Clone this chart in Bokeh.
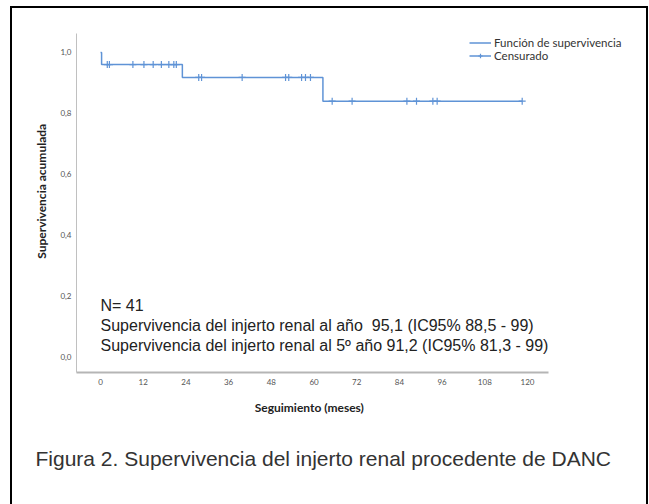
from bokeh.plotting import figure
from bokeh.models import (Range1d, Label, Legend, LegendItem, Title, InlineStyleSheet,
                          FixedTicker, CustomJSTickFormatter)
from bokeh.embed import file_html
from bokeh.resources import INLINE

# Kaplan-Meier step function (months, cumulative survival)
step_t = [0, 0.3, 23.0, 62.5, 118.5]
step_s = [1.0, 0.96, 0.918, 0.840, 0.840]

# censored observations
cens_t = [1.9, 2.5, 9.1, 12.2, 14.8, 17.1, 19.2, 20.6, 21.3,
          27.6, 28.4, 39.8, 52.0, 52.9, 56.5, 57.6, 59.0,
          65.1, 70.7, 86.1, 88.8, 93.4, 94.6, 118.5]
cens_s = [0.96, 0.96, 0.96, 0.96, 0.96, 0.96, 0.96, 0.96, 0.96,
          0.918, 0.918, 0.918, 0.918, 0.918, 0.918, 0.918, 0.918,
          0.840, 0.840, 0.840, 0.840, 0.840, 0.840, 0.840]

x_ticks = [0, 12, 24, 36, 48, 60, 72, 84, 96, 108, 120]
y_ticks = [0.0, 0.2, 0.4, 0.6, 0.8, 1.0]

annot_lines = ["N= 41",
               "Supervivencia del injerto renal al año\u00a0 95,1 (IC95% 88,5 - 99)",
               "Supervivencia del injerto renal al 5º año 91,2 (IC95% 81,3 - 99)"]
caption = "Figura 2. Supervivencia del injerto renal procedente de DANC"
x_label = "Seguimiento (meses)"
y_label = "Supervivencia acumulada"

BLUE = "#5f93d6"
GREY_TXT = "#555555"
NBSP = "\u00a0"

# outer black frame of the figure panel (drawn with CSS behind the transparent canvas)
frame_css = InlineStyleSheet(css="""
:host {
  box-shadow:
    inset 0 6px 0 0 #ffffff,
    inset 10px 0 0 0 #ffffff,
    inset -1px 0 0 0 #ffffff,
    inset 0 8px 0 0 #000000,
    inset 12px 0 0 0 #000000,
    inset -3px 0 0 0 #000000;
  background: #ffffff;
}
""")

p = figure(width=649, height=504, output_backend="svg", toolbar_location=None,
           x_range=Range1d(-6.75, 149.5), y_range=Range1d(-0.05, 1.062),
           min_border_left=76, min_border_right=17, min_border_top=33,
           min_border_bottom=132, stylesheets=[frame_css])
p.background_fill_color = "white"
p.border_fill_color = None
p.outline_line_color = None
p.xgrid.visible = False
p.ygrid.visible = False

step_r = p.step(step_t, step_s, mode="after", line_color=BLUE, line_width=1.5)
cens_r = p.scatter(cens_t, cens_s, marker="cross", size=7, line_color=BLUE, line_width=1.2)

# axes
p.xaxis.ticker = FixedTicker(ticks=x_ticks)
p.yaxis.ticker = FixedTicker(ticks=y_ticks)
p.yaxis.formatter = CustomJSTickFormatter(code="return tick.toFixed(1).replace('.', ',');")
p.xaxis.bounds = (-6.75, 125.9)
for ax in (p.xaxis[0], p.yaxis[0]):
    ax.major_tick_line_color = None
    ax.minor_tick_line_color = None
    ax.major_tick_out = 0
    ax.major_tick_in = 0
    ax.minor_tick_out = 0
    ax.minor_tick_in = 0
    ax.major_label_text_font = "Lato"
    ax.major_label_text_font_size = "8px"
    ax.major_label_text_color = GREY_TXT
    ax.axis_label_text_font = "Lato"
    ax.axis_label_text_font_style = "bold"
    ax.axis_label_text_font_size = "12px"
    ax.axis_label_text_color = "#222222"
p.xaxis.axis_line_color = "#b5b5b5"
p.xaxis.axis_line_width = 2
p.yaxis.axis_line_color = "#c0c0c0"
p.yaxis.axis_line_width = 1
# non-breaking spaces centre the x label under the drawn axis line rather than the wider frame
p.xaxis.axis_label = x_label + NBSP * 31
p.yaxis.axis_label = NBSP * 8 + y_label
p.xaxis.major_label_standoff = 6
p.yaxis.major_label_standoff = 5
p.xaxis.axis_label_standoff = 12
p.yaxis.axis_label_standoff = 8

# legend
legend = Legend(items=[LegendItem(label="Función de supervivencia", renderers=[step_r]),
                       LegendItem(label="Censurado", renderers=[cens_r, step_r])],
                location=(393, 310))
legend.background_fill_alpha = 0
legend.border_line_color = None
legend.label_text_font = "Lato"
legend.label_text_font_size = "11.5px"
legend.label_text_color = "#333333"
legend.glyph_width = 22
legend.glyph_height = 11
legend.label_height = 11
legend.spacing = 0
legend.padding = 0
legend.margin = 0
legend.label_standoff = 3
p.add_layout(legend)

# annotation text
for line, yv in zip(annot_lines, [0.170, 0.104, 0.038]):
    p.add_layout(Label(x=0, y=yv, text=line, text_font="Liberation Sans",
                       text_font_size="16px", text_color="#222222",
                       text_baseline="middle", text_align="left"))

# caption
p.add_layout(Title(text=caption, align="left", offset=-41, standoff=54,
                   text_font="Liberation Sans", text_font_size="21px",
                   text_font_style="normal", text_color="#333333"), "below")

open("out.html", "w").write(file_html(p, INLINE))
